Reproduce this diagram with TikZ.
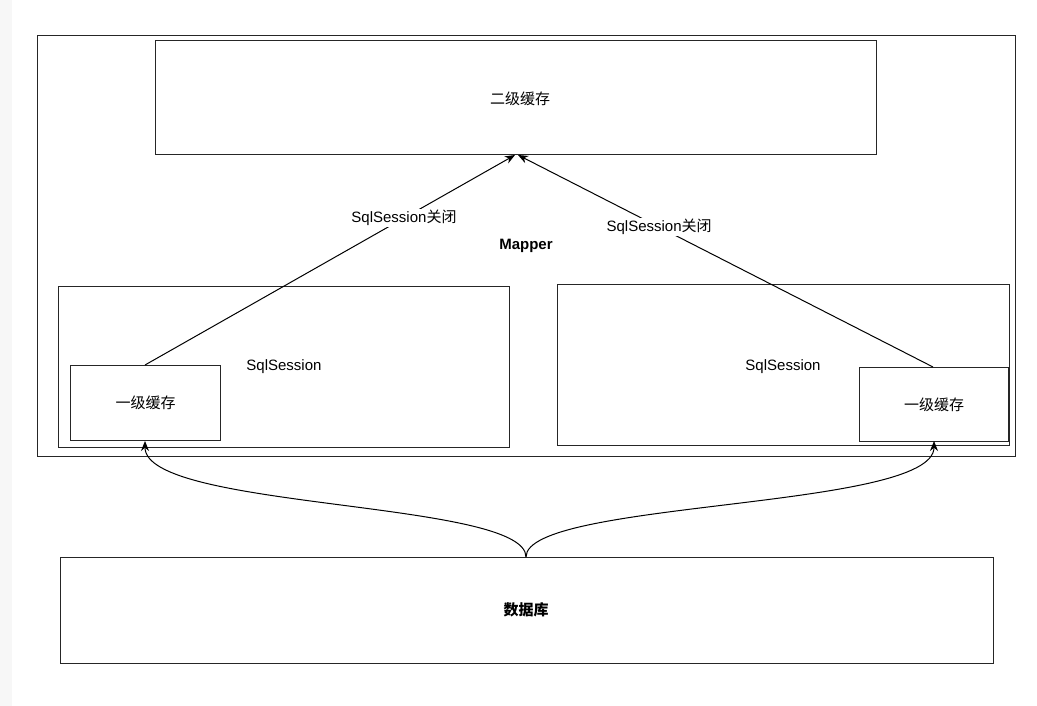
\documentclass[tikz,border=0pt]{standalone}
\usepackage{fontspec}
\setmainfont{Liberation Sans}
\newfontfamily\cjk{Noto Sans CJK SC}
\usetikzlibrary{arrows.meta}
\begin{document}
\begin{tikzpicture}[x=1pt,y=-1pt,
  box/.style={draw=black!85,line width=1pt,rectangle,inner sep=0pt,anchor=north west},
  lbl/.style={inner sep=1pt},
  conn/.style={draw=black,line width=1pt,-{Stealth[length=10pt,width=8pt]}},
  every node/.style={font=\fontsize{15}{17}\selectfont}]
\useasboundingbox (0,0) rectangle (1037,706);
\fill[gray!6] (0,0) rectangle (12,706);
\node[box,minimum width=978pt,minimum height=421pt] (mapper) at (37,35) {};
\node[box,minimum width=721pt,minimum height=114pt] (l2) at (155,40) {};
\node at (520,99) {\cjk 二级缓存};
\node[box,minimum width=451pt,minimum height=161pt] (s1) at (58,286) {};
\node[box,minimum width=452pt,minimum height=161pt] (s2) at (557,284) {};
\node at (284,367) {SqlSession};
\node at (783,367) {SqlSession};
\node[box,fill=white,minimum width=150pt,minimum height=75pt] (c1) at (70,365) {};
\node[box,fill=white,minimum width=149pt,minimum height=74pt] (c2) at (859,367) {};
\node at (c1.center) {\cjk 一级缓存};
\node at (c2.center) {\cjk 一级缓存};
\node[font=\fontsize{15}{17}\selectfont\bfseries] (mlabel) at (526,246) {Mapper};
\node[box,minimum width=933pt,minimum height=106pt] (db) at (60,557) {};
\node at (526,610) {\cjk\bfseries 数据库};
\coordinate (t1) at (515,155);
\coordinate (t2) at (518,155);
\coordinate (dbtop) at (526,557);
\coordinate (c1b) at (145,441);
\coordinate (c2b) at (934,441);
\coordinate (c1t) at (145,365);
\coordinate (c2t) at (933,367);
\draw[conn] (c1t) -- (t1) node[pos=0.7,fill=white,lbl] {SqlSession{\cjk 关闭}};
\draw[conn] (c2t) -- (t2) node[pos=0.66,fill=white,lbl] {SqlSession{\cjk 关闭}};
\draw[conn] (dbtop) .. controls (526,500) and (145,510) .. (c1b);
\draw[conn] (dbtop) .. controls (526,500) and (934,510) .. (c2b);
\end{tikzpicture}
\end{document}
